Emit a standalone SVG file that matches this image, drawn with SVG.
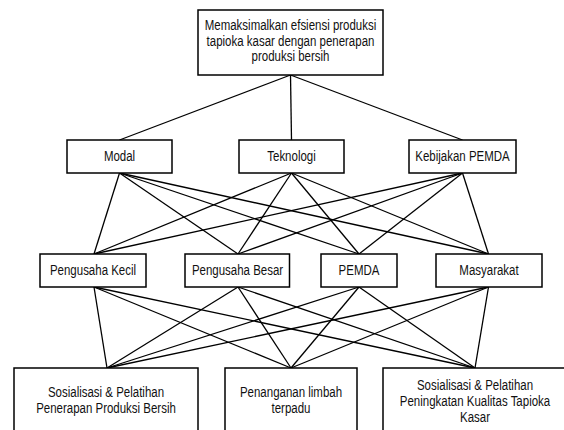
<svg xmlns="http://www.w3.org/2000/svg" width="564" height="430" viewBox="0 0 564 430">
<style>
rect.box{fill:#fff;stroke:#000;stroke-width:1.5}
#connectors line{stroke:#000;stroke-width:1.3}
text{font-family:"Liberation Sans",Arial,sans-serif;font-size:14px;fill:#111;text-anchor:middle}
</style>
<rect width="564" height="430" fill="#fff"/>
<g id="connectors">
<line x1="290.5" y1="75" x2="119.5" y2="140"/>
<line x1="290.5" y1="75" x2="291.5" y2="140"/>
<line x1="290.5" y1="75" x2="462.5" y2="140"/>
<line x1="119.5" y1="173" x2="94" y2="254"/>
<line x1="119.5" y1="173" x2="238" y2="254"/>
<line x1="119.5" y1="173" x2="359" y2="254"/>
<line x1="119.5" y1="173" x2="488.5" y2="254"/>
<line x1="291.5" y1="173" x2="94" y2="254"/>
<line x1="291.5" y1="173" x2="238" y2="254"/>
<line x1="291.5" y1="173" x2="359" y2="254"/>
<line x1="291.5" y1="173" x2="488.5" y2="254"/>
<line x1="462.5" y1="173" x2="94" y2="254"/>
<line x1="462.5" y1="173" x2="238" y2="254"/>
<line x1="462.5" y1="173" x2="359" y2="254"/>
<line x1="462.5" y1="173" x2="488.5" y2="254"/>
<line x1="94" y1="287" x2="107" y2="368"/>
<line x1="94" y1="287" x2="291" y2="368"/>
<line x1="94" y1="287" x2="475" y2="368"/>
<line x1="238" y1="287" x2="107" y2="368"/>
<line x1="238" y1="287" x2="291" y2="368"/>
<line x1="238" y1="287" x2="475" y2="368"/>
<line x1="359" y1="287" x2="107" y2="368"/>
<line x1="359" y1="287" x2="291" y2="368"/>
<line x1="359" y1="287" x2="475" y2="368"/>
<line x1="488.5" y1="287" x2="107" y2="368"/>
<line x1="488.5" y1="287" x2="291" y2="368"/>
<line x1="488.5" y1="287" x2="475" y2="368"/>
</g>
<g id="goal">
<rect class="box" x="198" y="10" width="185" height="65"/>
<g transform="translate(290.5,0) scale(0.82,1)">
<text x="0" y="30.5">Memaksimalkan efsiensi produksi</text>
<text x="0" y="46">tapioka kasar dengan penerapan</text>
<text x="0" y="61.5">produksi bersih</text>
</g>
</g>
<g id="modal">
<rect class="box" x="67" y="140" width="105" height="33"/>
<text transform="translate(119.5,0) scale(0.82,1)" x="0" y="160.7">Modal</text>
</g>
<g id="teknologi">
<rect class="box" x="239" y="140" width="105" height="33"/>
<text transform="translate(291.5,0) scale(0.82,1)" x="0" y="160.7">Teknologi</text>
</g>
<g id="kebijakan">
<rect class="box" x="409" y="140" width="107" height="33"/>
<text transform="translate(462.5,0) scale(0.82,1)" x="0" y="160.7">Kebijakan PEMDA</text>
</g>
<g id="pengusaha-kecil">
<rect class="box" x="40" y="254" width="106" height="33"/>
<text transform="translate(93,0) scale(0.82,1)" x="0" y="275">Pengusaha Kecil</text>
</g>
<g id="pengusaha-besar">
<rect class="box" x="185" y="254" width="104.5" height="33"/>
<text transform="translate(237.5,0) scale(0.82,1)" x="0" y="275">Pengusaha Besar</text>
</g>
<g id="pemda">
<rect class="box" x="321" y="254" width="76" height="33"/>
<text transform="translate(359,0) scale(0.82,1)" x="0" y="275">PEMDA</text>
</g>
<g id="masyarakat">
<rect class="box" x="436" y="254" width="106" height="33"/>
<text transform="translate(489,0) scale(0.82,1)" x="0" y="275">Masyarakat</text>
</g>
<g id="sosialisasi-penerapan">
<rect class="box" x="14" y="368" width="184" height="80"/>
<g transform="translate(106,0) scale(0.82,1)">
<text x="0" y="397">Sosialisasi &amp; Pelatihan</text>
<text x="0" y="413.5">Penerapan Produksi Bersih</text>
</g>
</g>
<g id="penanganan-limbah">
<rect class="box" x="225" y="368" width="132" height="80"/>
<g transform="translate(291,0) scale(0.82,1)">
<text x="0" y="397">Penanganan limbah</text>
<text x="0" y="413.5">terpadu</text>
</g>
</g>
<g id="sosialisasi-kualitas">
<rect class="box" x="383" y="368" width="184" height="80"/>
<g transform="translate(475,0) scale(0.82,1)">
<text x="0" y="390.5">Sosialisasi &amp; Pelatihan</text>
<text x="0" y="406.5">Peningkatan Kualitas Tapioka</text>
<text x="0" y="422.5">Kasar</text>
</g>
</g>
</svg>
